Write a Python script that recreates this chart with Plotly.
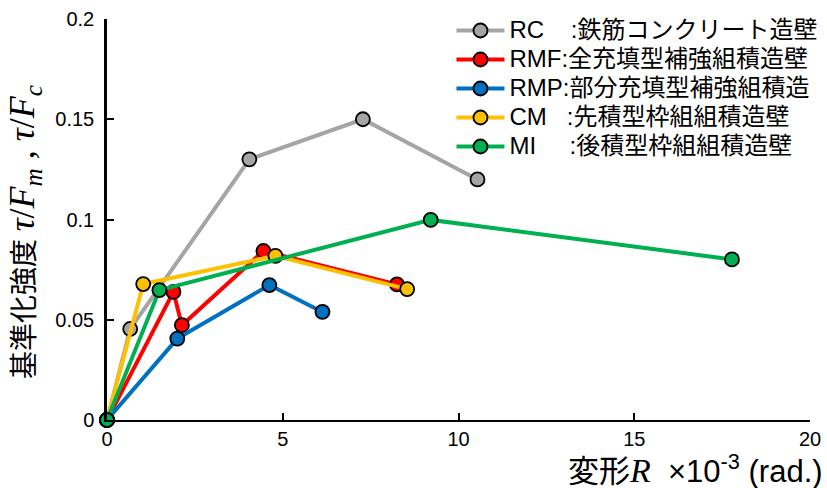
import plotly.graph_objects as go

# Drift R (x10^-3 rad) and normalised strength for each wall type
rc_x = [0, 0.66, 4.05, 7.28, 10.54]
rc_y = [0, 0.0454, 0.130, 0.150, 0.120]

rmf_x = [0, 1.89, 2.13, 4.45, 8.25]
rmf_y = [0, 0.0639, 0.0473, 0.0843, 0.0676]

rmp_x = [0, 2.0, 4.62, 6.13]
rmp_y = [0, 0.0406, 0.0673, 0.0539]

cm_x = [0, 1.03, 4.79, 8.54]
cm_y = [0, 0.0678, 0.0819, 0.0653]

mi_x = [0, 1.49, 9.21, 17.78]
mi_y = [0, 0.0648, 0.0998, 0.0801]

names = [
    "RC\u00a0\u00a0\u00a0\u00a0:鉄筋コンクリート造壁",
    "RMF:全充填型補強組積造壁",
    "RMP:部分充填型補強組積造",
    "CM\u00a0\u00a0\u00a0:先積型枠組組積造壁",
    "MI\u00a0\u00a0\u00a0\u00a0\u00a0:後積型枠組組積造壁",
]
colors = ["#A5A5A5", "#FF0000", "#0070C0", "#FFC000", "#00B050"]

x_ticks = [0, 5, 10, 15, 20]
y_ticks = [0, 0.05, 0.1, 0.15, 0.2]
y_tick_text = ["0", "0.05", "0.1", "0.15", "0.2"]

FONT = "Liberation Sans, Arial, Noto Sans CJK JP, sans-serif"
SERIF = "Liberation Serif, DejaVu Serif, serif"

fig = go.Figure()
series = [(rc_x, rc_y), (rmf_x, rmf_y), (rmp_x, rmp_y), (cm_x, cm_y), (mi_x, mi_y)]
for (xs, ys), name, col in zip(series, names, colors):
    fig.add_trace(go.Scatter(
        x=xs, y=ys, mode="lines+markers",
        name=f"<span style=\"font-size:24px\">{name}</span>",
        line=dict(color=col, width=4),
        marker=dict(color=col, size=14, line=dict(color="black", width=1.8)),
        cliponaxis=False,
    ))

fig.update_layout(
    width=827, height=488,
    margin=dict(l=107, r=17, t=19, b=68, autoexpand=False),
    paper_bgcolor="white", plot_bgcolor="white",
    font=dict(family=FONT, size=20, color="black"),
    showlegend=True,
    legend=dict(
        x=0.49, y=1.02, xanchor="left", yanchor="top",
        bgcolor="rgba(255,255,255,0)",
        font=dict(family=FONT, size=20, color="black"),
        tracegroupgap=0, itemwidth=48,
    ),
    xaxis=dict(
        range=[0, 20], tickvals=x_ticks, showgrid=False, zeroline=False,
        showline=True, linecolor="black", linewidth=2,
        ticks="inside", ticklen=7, tickwidth=2, tickcolor="black",
        tickfont=dict(size=20, family=FONT),
    ),
    yaxis=dict(
        range=[0, 0.2], tickvals=y_ticks, ticktext=y_tick_text,
        showgrid=False, zeroline=False,
        showline=True, linecolor="black", linewidth=2.5,
        ticks="inside", ticklen=7, tickwidth=2, tickcolor="black",
        tickfont=dict(size=20, family=FONT), ticklabelstandoff=6,
    ),
)

# Axis titles
fig.add_annotation(
    xref="paper", yref="paper", x=1.021, y=-0.121, xanchor="right", yanchor="middle",
    showarrow=False, font=dict(size=31, family=FONT),
    text=(f"変形<span style=\"font-family:{SERIF};font-size:34px\"><i>R</i></span>"
          f"\u00a0 ×10<sup>-3</sup> (rad.)"),
)
fig.add_annotation(
    xref="paper", yref="paper", x=-0.117, y=0.468, xanchor="center", yanchor="middle",
    textangle=-90, showarrow=False, font=dict(size=28, family=FONT),
    text=(f"基準化強度 <span style=\"font-family:{SERIF};font-size:36px\"><i>τ</i>/<i>F<sub>m</sub></i> , "
          f"<i>τ</i>/<i>F<sub>c</sub></i></span>"),
)

fig.write_html("out.html")
